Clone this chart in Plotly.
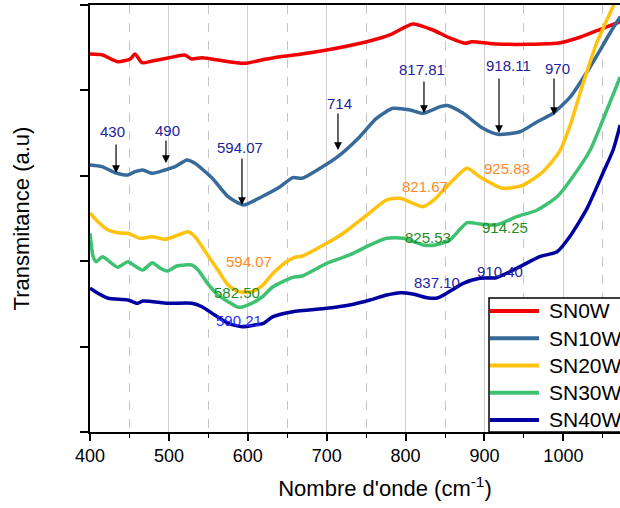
import plotly.graph_objects as go

# ---------------- data (wavenumber cm-1, transmittance a.u.) ----------------
sn0w_x = [400, 416, 435, 451, 457, 466, 479, 499, 520, 529, 542, 562, 596, 620, 641, 666, 700,
          751, 780, 809, 833, 856, 875, 884, 916, 958, 992, 1021, 1050, 1072]
sn0w_y = [4.426, 4.415, 4.336, 4.368, 4.426, 4.324, 4.344, 4.379, 4.415, 4.368, 4.383, 4.356, 4.317,
          4.362, 4.395, 4.423, 4.473, 4.570, 4.649, 4.778, 4.713, 4.614, 4.551, 4.570, 4.543, 4.540,
          4.551, 4.622, 4.727, 4.804]

sn10w_x = [400, 415, 432, 448, 457, 467, 479, 495, 508, 523, 533, 555, 575, 595, 617, 641, 657, 669,
           688, 714, 742, 763, 784, 806, 822, 844, 853, 873, 898, 917, 945, 967, 987, 1009, 1034,
           1059, 1072]
sn10w_y = [3.126, 3.107, 3.036, 3.009, 3.048, 3.068, 3.029, 3.068, 3.107, 3.185, 3.146, 2.971, 2.755,
           2.658, 2.752, 2.872, 2.978, 2.971, 3.068, 3.224, 3.458, 3.673, 3.790, 3.770, 3.732, 3.810,
           3.823, 3.732, 3.556, 3.486, 3.516, 3.633, 3.732, 3.926, 4.277, 4.669, 4.863]

sn20w_x = [400, 410, 423, 435, 448, 463, 479, 495, 512, 524, 533, 549, 562, 575, 588, 605, 618, 632,
           649, 660, 669, 700, 721, 751, 776, 793, 822, 836, 852, 878, 894, 923, 949, 974, 995, 1008,
           1025, 1042, 1059, 1075]
sn20w_y = [2.561, 2.463, 2.365, 2.334, 2.327, 2.268, 2.287, 2.256, 2.307, 2.345, 2.287, 2.073, 1.897,
           1.721, 1.643, 1.643, 1.710, 1.858, 1.994, 2.046, 2.061, 2.210, 2.327, 2.541, 2.717, 2.737,
           2.638, 2.717, 2.872, 3.088, 2.989, 2.854, 2.892, 3.048, 3.282, 3.575, 4.083, 4.551, 4.903,
           5.234]

sn30w_x = [400, 404, 408, 416, 425, 435, 448, 457, 467, 479, 489, 498, 510, 529, 537, 549, 562, 575,
           588, 605, 618, 632, 657, 669, 700, 729, 755, 776, 797, 822, 838, 856, 878, 894, 915, 941,
           967, 992, 1012, 1034, 1050, 1072]
sn30w_y = [2.327, 2.053, 1.994, 2.053, 1.994, 1.929, 1.994, 1.944, 1.897, 1.982, 1.917, 1.885, 1.944,
           1.956, 1.897, 1.741, 1.604, 1.526, 1.460, 1.507, 1.581, 1.701, 1.811, 1.827, 1.975, 2.073,
           2.190, 2.268, 2.268, 2.190, 2.190, 2.248, 2.451, 2.436, 2.424, 2.521, 2.600, 2.755, 2.989,
           3.302, 3.653, 4.157]

sn40w_x = [400, 410, 423, 448, 460, 467, 499, 529, 542, 558, 575, 593, 609, 620, 632, 657, 700, 729,
           755, 776, 793, 809, 827, 840, 852, 873, 894, 915, 945, 970, 992, 1008, 1030, 1050, 1063, 1072]
sn40w_y = [1.683, 1.624, 1.566, 1.546, 1.507, 1.534, 1.507, 1.507, 1.467, 1.370, 1.273, 1.233, 1.253,
           1.273, 1.350, 1.409, 1.448, 1.487, 1.546, 1.604, 1.631, 1.616, 1.573, 1.569, 1.624, 1.741,
           1.800, 1.807, 1.936, 2.053, 2.111, 2.287, 2.619, 3.029, 3.302, 3.595]

series_names = ["SN0W", "SN10W", "SN20W", "SN30W", "SN40W"]
series_x = [sn0w_x, sn10w_x, sn20w_x, sn30w_x, sn40w_x]
series_y = [sn0w_y, sn10w_y, sn20w_y, sn30w_y, sn40w_y]
series_colors = ["#F00000", "#386A99", "#FFC20E", "#3EC272", "#0000A0"]

x_ticks = [400, 500, 600, 700, 800, 900, 1000]

# annotations: (text, x, y, color)
labels = [
    ("430", 428, 3.513, "#23239B"),
    ("490", 497.6, 3.525, "#23239B"),
    ("594.07", 590, 3.337, "#23239B"),
    ("714", 715.6, 3.852, "#23239B"),
    ("817.81", 820.8, 4.239, "#23239B"),
    ("918.11", 929.8, 4.297, "#23239B"),
    ("970", 991.9, 4.262, "#23239B"),
    ("594.07", 601.5, 1.991, "#FF8A2A"),
    ("821.67", 824.6, 2.869, "#FF8A2A"),
    ("925.83", 928.5, 3.080, "#FF8A2A"),
    ("582.50", 586.3, 1.628, "#1E8C1E"),
    ("825.53", 828.4, 2.283, "#1E8C1E"),
    ("914.25", 926.0, 2.389, "#1E8C1E"),
    ("590.21", 588.8, 1.311, "#2E2EFF"),
    ("837.10", 839.8, 1.756, "#23239B"),
    ("910.40", 919.6, 1.885, "#23239B"),
]
# arrows: (x, tail_y, tip_y)
arrows = [
    (433, 3.384, 3.033),
    (496.3, 3.431, 3.150),
    (592.6, 3.220, 2.658),
    (714.3, 3.747, 3.302),
    (823.3, 4.122, 3.735),
    (918.4, 4.157, 3.501),
    (988.1, 4.157, 3.712),
]

FONT = "Arial, Liberation Sans, sans-serif"

fig = go.Figure()
for name, xs, ys, col in zip(series_names, series_x, series_y, series_colors):
    fig.add_trace(go.Scatter(x=xs, y=ys, mode="lines", name=name, showlegend=False,
                             line=dict(color=col, width=3.5, shape="spline", smoothing=0.6)))

for txt, x, y, col in labels:
    fig.add_annotation(x=x, y=y, xref="x", yref="y", text=txt, showarrow=False,
                       font=dict(family=FONT, size=15, color=col))
for x, ty, hy in arrows:
    fig.add_annotation(x=x, y=hy, ax=x, ay=ty, xref="x", yref="y", axref="x", ayref="y",
                       text="", showarrow=True, arrowhead=2, arrowsize=1.3, arrowwidth=1.2,
                       arrowcolor="black", standoff=0, startstandoff=0)

# ---- legend box (the original is cropped by the right edge of the picture) ----
LEG_X0, LEG_TOP = 0.6763, 0.3138
SAMPLE_X0, SAMPLE_X1, TEXT_X = 0.678, 0.761, 0.7746
ROW0, ROW_STEP = 0.2834, 0.0638
fig.add_shape(type="rect", xref="paper", yref="paper", x0=LEG_X0, x1=1.2, y0=0, y1=LEG_TOP,
              fillcolor="white", line=dict(color="black", width=1.5), layer="above")
for i, (name, col) in enumerate(zip(series_names, series_colors)):
    yy = ROW0 - i * ROW_STEP
    fig.add_shape(type="line", xref="paper", yref="paper", x0=SAMPLE_X0, x1=SAMPLE_X1, y0=yy, y1=yy,
                  line=dict(color=col, width=4), layer="above")
    fig.add_annotation(x=TEXT_X, y=yy, xref="paper", yref="paper", text=name, showarrow=False,
                       xanchor="left", yanchor="middle",
                       font=dict(family=FONT, size=21, color="black"))

# The original figure is cropped on its right side: draw a wider figure and let the
# 620px-wide window cut it.
fig.update_layout(
    width=680, height=508,
    margin=dict(l=90, r=0, t=5, b=76, autoexpand=False),
    paper_bgcolor="white", plot_bgcolor="white",
    font=dict(family=FONT, color="black"),
    showlegend=False,
)
fig.update_xaxes(
    range=[400, 1147.8], tickvals=x_ticks, ticktext=[str(v) for v in x_ticks],
    ticks="outside", ticklen=7, tickwidth=1.5, tickcolor="black",
    tickfont=dict(family=FONT, size=18, color="black"),
    showline=True, linecolor="black", linewidth=1.5, mirror=True,
    showgrid=True, gridcolor="#CFCFCF", gridwidth=1.2,
    minor=dict(dtick=50, tick0=450, ticks="outside", ticklen=4, tickwidth=1.2, tickcolor="black",
               showgrid=True, gridcolor="#C4C4C4", gridwidth=1, griddash="dash"),
    zeroline=False,
    title=dict(text="Nombre d'onde (cm<sup>-1</sup>)", font=dict(family=FONT, size=22, color="black"),
               standoff=15),
)
fig.update_yaxes(
    range=[0, 5], tickvals=[0, 1, 2, 3, 4, 5], showticklabels=False,
    ticks="outside", ticklen=8, tickwidth=1.5, tickcolor="black",
    showline=True, linecolor="black", linewidth=1.5, mirror=True,
    showgrid=False, zeroline=False,
    title=dict(text="Transmitance (a.u)", font=dict(family=FONT, size=22, color="black"), standoff=45),
)

fig.write_html("out.html", config={"displayModeBar": False},
               post_script="document.body.style.margin='0px';document.body.style.overflow='hidden';")
